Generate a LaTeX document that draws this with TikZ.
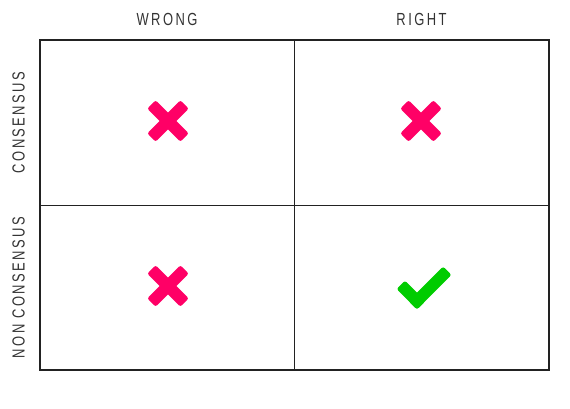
\documentclass[tikz,border=0pt]{standalone}
\usepackage{fontspec}
\setmainfont{Liberation Sans}[FakeStretch=0.74,LetterSpace=14]
\definecolor{xpink}{HTML}{FF0066}
\definecolor{okgreen}{HTML}{00CC00}
\definecolor{ink}{HTML}{222222}
\definecolor{txt}{HTML}{333333}
\tikzset{
  lbl/.style={font=\fontsize{17.5}{20}\selectfont, text=txt, inner sep=0pt},
  bar/.style={fill=xpink, rectangle, rounded corners=2.5pt, minimum width=47pt, minimum height=12pt, inner sep=0pt},
  gbar/.style={fill=okgreen, rectangle, rounded corners=2.5pt, minimum height=12pt, inner sep=0pt},
  crossmark/.pic={
    \node[bar, rotate=45] {};
    \node[bar, rotate=-45] {};
  },
}
\begin{document}
\begin{tikzpicture}[x=1pt,y=-1pt]
\useasboundingbox (0,0) rectangle (570,409);
% grid
\coordinate (tl) at (40,40);
\coordinate (br) at (549,370);
\coordinate (mt) at (294,40);
\coordinate (mb) at (294,370);
\coordinate (ml) at (40,205);
\coordinate (mr) at (549,205);
\draw[ink, line width=0.9pt] (mt) -- (mb);
\draw[ink, line width=0.9pt] (ml) -- (mr);
\draw[ink, line width=2pt] (tl) rectangle (br);
% labels
\node[lbl] (wrong) at (167,19.5) {WRONG};
\node[lbl] (right) at (421.5,19.5) {RIGHT};
\node[lbl, rotate=90] (cons) at (18.5,122.5) {CONSENSUS};
\node[lbl, rotate=90] (noncons) at (18.5,287.5) {NON CONSENSUS};
% marks
\pic at (168,121) {crossmark};
\pic at (421,121) {crossmark};
\pic at (168,286) {crossmark};
\node[gbar, minimum width=29pt, rotate=-45] (short) at (411,295) {};
\node[gbar, minimum width=49pt, rotate=45] (long) at (430,288) {};
\end{tikzpicture}
\end{document}
